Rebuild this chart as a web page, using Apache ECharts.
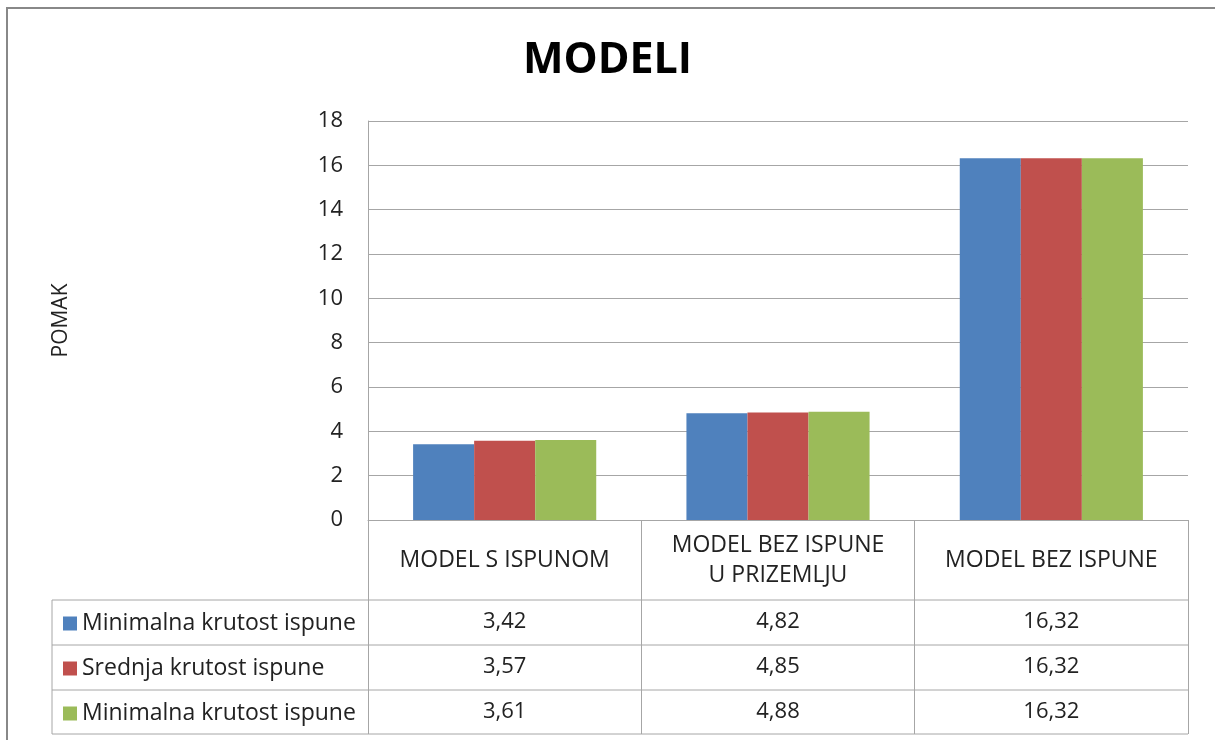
<!DOCTYPE html>
<html>
<head>
<meta charset="utf-8">
<script src="https://cdn.jsdelivr.net/npm/echarts@6/dist/echarts.min.js"></script>
<style>
html, body { margin: 0; padding: 0; background: #fff; }
#chart { width: 1215px; height: 740px; }
</style>
</head>
<body>
<div id="chart"></div>
<script>
// podaci
var categories = ['MODEL S ISPUNOM', 'MODEL BEZ ISPUNE\nU PRIZEMLJU', 'MODEL BEZ ISPUNE'];
var seriesNames = ['Minimalna krutost ispune', 'Srednja krutost ispune', 'Minimalna krutost ispune '];
var minKrutost = [3.42, 4.82, 16.32];
var srednjaKrutost = [3.57, 4.85, 16.32];
var minKrutost2 = [3.61, 4.88, 16.32];
var yTicks = [0, 2, 4, 6, 8, 10, 12, 14, 16, 18];

var colors = ['#4F81BD', '#C0504D', '#9BBB59'];
var values = [minKrutost, srednjaKrutost, minKrutost2];
var font = 'Open Sans';
var fs = 22;
var lineColor = '#a6a6a6';

// redovi tablice (sredina reda)
var rowCenters = [622, 667, 712];

function fmt(v) {
    return v.toFixed(2).replace('.', ',');
}

var chart = echarts.init(document.getElementById('chart'));

var xAxes = [{
    type: 'category',
    data: categories,
    gridIndex: 0,
    position: 'bottom',
    axisLine: { show: true, lineStyle: { color: lineColor, width: 1 } },
    axisTick: { show: true, interval: 0, length: 214, lineStyle: { color: lineColor, width: 1 } },
    axisLabel: {
        interval: 0, margin: 40, verticalAlign: 'middle', lineHeight: 30,
        color: '#222', fontSize: 23, fontFamily: font
    }
}];
values.forEach(function (arr, i) {
    xAxes.push({
        type: 'category',
        data: arr.map(fmt),
        gridIndex: 0,
        position: 'bottom',
        offset: rowCenters[i] - 520,
        axisLine: { show: false },
        axisTick: { show: false },
        axisLabel: { interval: 0, margin: 0, verticalAlign: 'middle', color: '#222', fontSize: fs, fontFamily: font }
    });
});

var legends = seriesNames.map(function (n, i) {
    return {
        data: [n],
        left: 58,
        top: rowCenters[i] - 15,
        icon: 'rect',
        itemWidth: 14,
        itemHeight: 14,
        itemGap: 8,
        selectedMode: false,
        textStyle: { color: '#222', fontSize: 23, fontFamily: font }
    };
});

// linije tablice
var tableLines = [];
[600, 645, 690, 734].forEach(function (y) {
    tableLines.push({ type: 'line', shape: { x1: 52, y1: y, x2: 1188, y2: y }, style: { stroke: lineColor, lineWidth: 1 } });
});
tableLines.push({ type: 'line', shape: { x1: 52, y1: 600, x2: 52, y2: 734 }, style: { stroke: lineColor, lineWidth: 1 } });
// okvir grafikona
tableLines.push({ type: 'rect', shape: { x: 7, y: 8, width: 1240, height: 800 }, style: { fill: null, stroke: '#888', lineWidth: 2 } });

chart.setOption({
    animation: false,
    backgroundColor: '#fff',
    title: {
        text: 'MODELI',
        left: 'center',
        top: 34,
        textStyle: { fontSize: 43, fontWeight: 'bold', color: '#000', fontFamily: font }
    },
    legend: legends,
    grid: { left: 368, right: 27, top: 121, bottom: 220 },
    xAxis: xAxes,
    yAxis: {
        type: 'value',
        min: yTicks[0],
        max: yTicks[yTicks.length - 1],
        interval: 2,
        name: 'POMAK',
        nameLocation: 'middle',
        nameGap: 296,
        nameRotate: 90,
        nameTextStyle: { fontSize: 21, color: '#222', fontFamily: font },
        axisLine: { show: true, lineStyle: { color: lineColor } },
        axisTick: { show: false },
        axisLabel: { margin: 25, fontSize: fs, color: '#222', fontFamily: font },
        splitLine: { show: true, lineStyle: { color: lineColor } }
    },
    graphic: tableLines,
    series: values.map(function (arr, i) {
        return {
            name: seriesNames[i],
            type: 'bar',
            xAxisIndex: 0,
            data: arr,
            barGap: 0,
            barCategoryGap: '33%',
            itemStyle: { color: colors[i] }
        };
    })
});
</script>
</body>
</html>
